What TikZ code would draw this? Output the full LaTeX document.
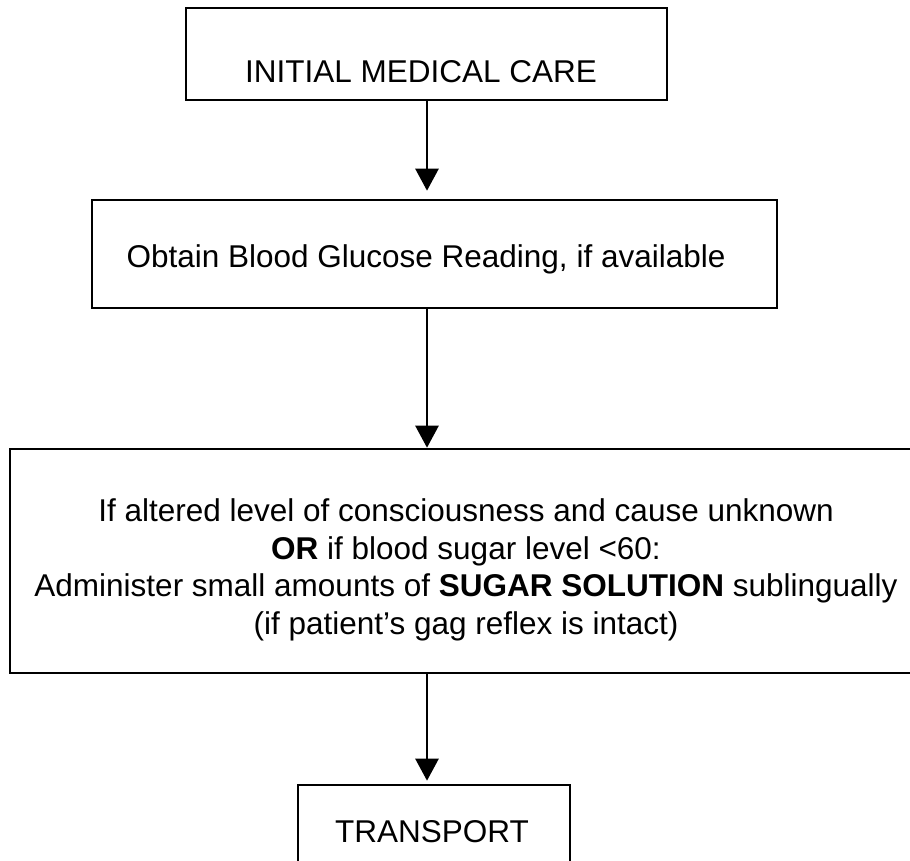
\documentclass[tikz,border=0pt]{standalone}
\usepackage{fontspec}
\setmainfont{Liberation Sans}
\usetikzlibrary{arrows.meta}

\begin{document}
\begin{tikzpicture}[x=1pt,y=-1pt,
  stepbox/.style={draw=black, line width=2.6pt, rectangle, inner sep=0pt},
  label/.style={inner sep=0pt, font=\fontsize{31.5}{37.7}\selectfont},
  flow/.style={draw=black, line width=2.6pt,
    -{Triangle[width=23pt,length=22pt]}}
]
\useasboundingbox (0,0) rectangle (910,861);

% boxes
\node[stepbox, minimum width=481pt, minimum height=92pt]  (b1) at (426.5,54) {};
\node[stepbox, minimum width=685pt, minimum height=108pt] (b2) at (434.5,254) {};
\node[stepbox, minimum width=915pt, minimum height=224pt] (b3) at (467.5,561) {};
\node[stepbox, minimum width=272pt, minimum height=93pt]  (b4) at (434,831.5) {};

% texts
\node[label, anchor=base] (t1) at (421,83) {INITIAL MEDICAL CARE};
\node[label, anchor=base] (t2) at (426,267) {Obtain Blood Glucose Reading, if available};
\node[label, align=center] (t3) at (466,570) {If altered level of consciousness and cause unknown\\
  \textbf{OR} if blood sugar level <60:\\
  Administer small amounts of \textbf{SUGAR SOLUTION} sublingually\\
  (if patient’s gag reflex is intact)};
\node[label, anchor=base] (t4) at (432,842) {TRANSPORT};

% connectors
\coordinate (c1) at (427,0);
\draw[flow, shorten >=8pt] (b1.south -| c1) -- (b2.north -| c1);
\draw[flow] (b2.south -| c1) -- (b3.north -| c1);
\draw[flow, shorten >=3pt] (b3.south -| c1) -- (b4.north -| c1);
\end{tikzpicture}
\end{document}
